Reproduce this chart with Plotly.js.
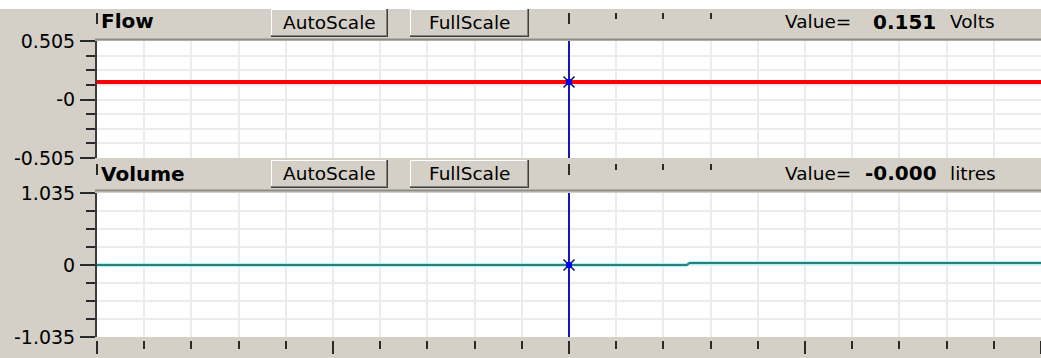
<!DOCTYPE html>
<html>
<head>
<meta charset="utf-8">
<script src="https://cdn.plot.ly/plotly-3.0.1.min.js"></script>
<style>
  html, body { margin: 0; padding: 0; background: #D4D0C8; }
  #chart { width: 1041px; height: 358px; }
</style>
</head>
<body>
<div id="chart"></div>
<script>
// ---- data ----
const time = [0, 12.49, 12.56, 20];            // divisions along the sweep
const flow = [0.151, 0.151, 0.151, 0.151];     // Volts
const volume = [0, 0, 0.03, 0.03];             // litres
const timeRange = [0, 20];
const flowRange = [-0.505, 0.505];
const volumeRange = [-1.035, 1.035];
const flowTickVals = [-0.505, 0, 0.505];
const flowTickText = ['-0.505', '-0', '0.505'];
const volumeTickVals = [-1.035, 0, 1.035];
const volumeTickText = ['-1.035', '0', '1.035'];
const cursorTime = 10;
const flowAtCursor = 0.151;
const volumeAtCursor = -0.0001;
const panelNames = ['Flow', 'Volume'];
const panelUnits = ['Volts', 'litres'];

// ---- layout helpers (pixel -> paper) ----
const W = 1041, H = 358;
const PX = v => v / W;
const PY = v => 1 - v / H;
const GRAY = '#D4D0C8';
const FONT = 'DejaVu Sans, Verdana, sans-serif';
const TICKC = '#2a2a2a';
const GRIDC = '#ECECEC';

const cursorStyle = { color: '#1515B8', width: 2 };

const traces = [
  { x: time, y: flow, xaxis: 'x', yaxis: 'y', mode: 'lines',
    line: { color: '#FF0000', width: 4 }, hoverinfo: 'skip' },
  { x: [cursorTime, cursorTime], y: flowRange, xaxis: 'x', yaxis: 'y', mode: 'lines',
    line: cursorStyle, hoverinfo: 'skip' },
  { x: [cursorTime], y: [flowAtCursor], xaxis: 'x', yaxis: 'y', mode: 'markers',
    marker: { symbol: 'x-thin', size: 11, line: { color: '#10106A', width: 1.5 } }, hoverinfo: 'skip' },
  { x: [cursorTime], y: [flowAtCursor], xaxis: 'x', yaxis: 'y', mode: 'markers',
    marker: { symbol: 'square', size: 6, color: '#0000F0' }, hoverinfo: 'skip' },

  { x: time, y: volume, xaxis: 'x2', yaxis: 'y2', mode: 'lines',
    line: { color: '#A8F4F4', width: 4 }, hoverinfo: 'skip' },
  { x: time, y: volume, xaxis: 'x2', yaxis: 'y2', mode: 'lines',
    line: { color: '#2E7E7E', width: 2 }, hoverinfo: 'skip' },
  { x: [cursorTime, cursorTime], y: volumeRange, xaxis: 'x2', yaxis: 'y2', mode: 'lines',
    line: cursorStyle, hoverinfo: 'skip' },
  { x: [cursorTime], y: [volumeAtCursor], xaxis: 'x2', yaxis: 'y2', mode: 'markers',
    marker: { symbol: 'x-thin', size: 11, line: { color: '#10106A', width: 1.5 } }, hoverinfo: 'skip' },
  { x: [cursorTime], y: [volumeAtCursor], xaxis: 'x2', yaxis: 'y2', mode: 'markers',
    marker: { symbol: 'square', size: 6, color: '#0000F0' }, hoverinfo: 'skip' },
  // carrier for the bottom tick axis
  { x: [], y: [], xaxis: 'x3', yaxis: 'y2', mode: 'lines', hoverinfo: 'skip' }
];

function xAxis(posPx, extra) {
  return Object.assign({
    range: timeRange, domain: [PX(97), 1], anchor: 'free', position: PY(posPx),
    side: 'bottom', showline: false, zeroline: false, showticklabels: false,
    ticks: 'outside', tickmode: 'linear', tick0: 0, dtick: 5, ticklen: 11,
    tickwidth: 2, tickcolor: TICKC,
    showgrid: true, gridcolor: GRIDC, gridwidth: 2,
    minor: { ticks: 'outside', tickmode: 'linear', tick0: 0, dtick: 1, ticklen: 6,
             tickwidth: 2, tickcolor: TICKC, showgrid: true, gridcolor: GRIDC, gridwidth: 2 },
    fixedrange: true
  }, extra || {});
}

function yAxis(range, vals, text, domain, anchor) {
  const step = (range[1] - range[0]) / 8;
  return {
    range: range, domain: domain, anchor: anchor,
    showline: true, linecolor: '#3c3c3c', linewidth: 2, zeroline: false,
    ticks: 'outside', tickmode: 'array', tickvals: vals, ticktext: text,
    ticklen: 15, tickwidth: 2, tickcolor: TICKC, ticklabelstandoff: 1,
    tickfont: { family: FONT, size: 19, color: '#000' },
    showgrid: true, gridcolor: GRIDC, gridwidth: 2,
    minor: { ticks: 'outside', tickmode: 'linear', tick0: range[0], dtick: step,
             ticklen: 9, tickwidth: 2, tickcolor: TICKC, showgrid: true,
             gridcolor: GRIDC, gridwidth: 2 },
    fixedrange: true
  };
}

// panel header decoration (offset = vertical shift of the second panel)
const shapes = [];
const annotations = [];
shapes.push({ type: 'rect', xref: 'paper', yref: 'paper', x0: 0, x1: 1, y0: PY(9), y1: 1,
  fillcolor: '#FFFFFF', line: { width: 0 }, layer: 'above' });

function rect(x0, x1, y0, y1, fill) {
  shapes.push({ type: 'rect', xref: 'paper', yref: 'paper', x0: PX(x0), x1: PX(x1),
    y0: PY(y1), y1: PY(y0), fillcolor: fill, line: { width: 0 }, layer: 'above' });
}
function seg(x0, y0, x1, y1, color, w) {
  shapes.push({ type: 'line', xref: 'paper', yref: 'paper', x0: PX(x0), x1: PX(x1),
    y0: PY(y0), y1: PY(y1), line: { color: color, width: w }, layer: 'above' });
}
function button(x0, x1, y0, y1, label) {
  rect(x0, x1, y0, y1, GRAY);
  seg(x0, y0 + 0.5, x1, y0 + 0.5, '#FFFFFF', 1);
  seg(x0 + 0.5, y0, x0 + 0.5, y1, '#FFFFFF', 1);
  seg(x0, y1 - 1.5, x1, y1 - 1.5, '#808080', 1);
  seg(x1 - 1.5, y0, x1 - 1.5, y1, '#808080', 1);
  seg(x0, y1 - 0.5, x1, y1 - 0.5, '#404040', 1);
  seg(x1 - 0.5, y0, x1 - 0.5, y1, '#404040', 1);
  annotations.push({ xref: 'paper', yref: 'paper', x: PX((x0 + x1) / 2), y: PY((y0 + y1) / 2 - 0.5),
    xanchor: 'center', yanchor: 'middle', showarrow: false, text: label,
    font: { family: FONT, size: 18.5, color: '#000' } });
}

[0, 151].forEach((off, i) => {
  // covers that hide header ticks behind the label and value boxes
  rect(99, 271, 9 + off, 38 + off, GRAY);
  rect(726, 1041, 9 + off, 38 + off, GRAY);
  // header bottom edge
  seg(95, 39.5 + off, 1041, 39.5 + off, '#8E8B84', 2);
  button(271, 388, 9 + off, 37 + off, 'AutoScale');
  button(410, 529, 9 + off, 37 + off, 'FullScale');
  annotations.push({ xref: 'paper', yref: 'paper', x: PX(99), y: PY(21.5 + off + i * 1),
    xanchor: 'left', yanchor: 'middle', showarrow: false, text: '<b>' + panelNames[i] + '</b>',
    font: { family: FONT, size: 20, color: '#000' } });
  const val = i === 0 ? flowAtCursor : volumeAtCursor;
  annotations.push({ xref: 'paper', yref: 'paper', x: PX(783), y: PY(22 + off),
    xanchor: 'left', yanchor: 'middle', showarrow: false, text: 'Value=',
    font: { family: FONT, size: 18.5, color: '#000' } });
  annotations.push({ xref: 'paper', yref: 'paper', x: PX(i === 0 ? 871 : 863), y: PY(22 + off),
    xanchor: 'left', yanchor: 'middle', showarrow: false, text: '<b>' + val.toFixed(3) + '</b>',
    font: { family: FONT, size: 20, color: '#000' } });
  annotations.push({ xref: 'paper', yref: 'paper', x: PX(948), y: PY(22 + off),
    xanchor: 'left', yanchor: 'middle', showarrow: false, text: panelUnits[i],
    font: { family: FONT, size: 18.5, color: '#000' } });
});

const layout = {
  width: W, height: H,
  margin: { l: 0, r: 0, t: 0, b: 0 },
  paper_bgcolor: GRAY, plot_bgcolor: '#FFFFFF',
  showlegend: false,
  xaxis: xAxis(12),
  yaxis: yAxis(flowRange, flowTickVals, flowTickText, [PY(158), PY(41)], 'x'),
  xaxis2: xAxis(163),
  yaxis2: yAxis(volumeRange, volumeTickVals, volumeTickText, [PY(337), PY(193)], 'x2'),
  xaxis3: xAxis(340, { overlaying: 'x2', showgrid: false, ticklen: 13, 
    minor: { ticks: 'outside', tickmode: 'linear', tick0: 0, dtick: 1, ticklen: 8,
             tickwidth: 2, tickcolor: TICKC, showgrid: false } }),
  shapes: shapes,
  annotations: annotations
};

Plotly.newPlot('chart', traces, layout, { staticPlot: true, displayModeBar: false });
</script>
</body>
</html>
